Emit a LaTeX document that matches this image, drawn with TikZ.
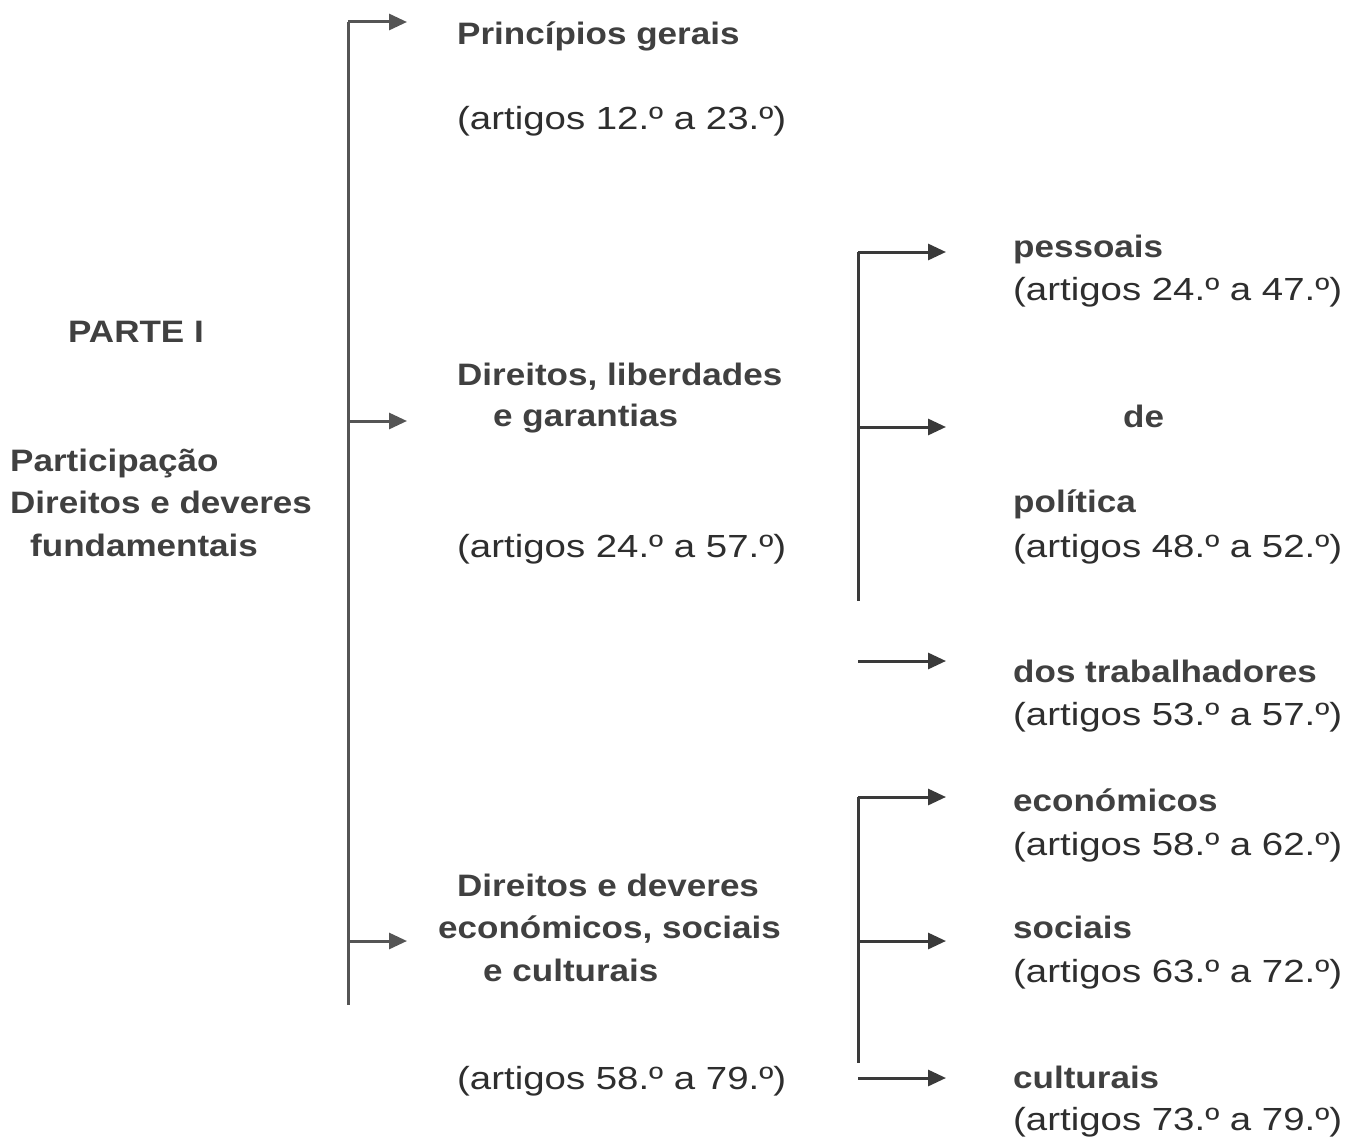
\documentclass[tikz,border=0pt]{standalone}
\usepackage{fontspec}
\setmainfont{Liberation Sans}[FakeStretch=1.13]
\newfontfamily\regfont{Liberation Sans}[FakeStretch=1.2]
\usetikzlibrary{arrows.meta}
\definecolor{txt}{HTML}{2E2E2E}
\definecolor{ttl}{HTML}{404040}
\definecolor{ln}{HTML}{555555}
\definecolor{lnd}{HTML}{3A3A3A}
\tikzset{
  lbl/.style={anchor=base west, inner sep=0pt, text=txt, font=\regfont\fontsize{32}{36}\selectfont},
  ttlbl/.style={anchor=base west, inner sep=0pt, text=ttl, font=\fontsize{31}{36}\selectfont\bfseries},
  conn/.style={draw=ln, line width=3pt},
  arr/.style={conn, -{Triangle[length=18pt,width=16pt]}},
  connd/.style={draw=lnd, line width=3pt},
  arrd/.style={connd, -{Triangle[length=18pt,width=16pt]}}
}
\begin{document}
\begin{tikzpicture}[x=1pt,y=-1pt]
\useasboundingbox[fill=white] (0,0) rectangle (1360,1137);
% left
\node[ttlbl] (parte) at (68,342) {PARTE I};
\node[ttlbl] (l1) at (10,471) {Participação};
\node[ttlbl] (l2) at (10,513) {Direitos e deveres};
\node[ttlbl] (l3) at (30,556) {fundamentais};
% middle column
\node[ttlbl] (pg) at (457,45) {Princípios gerais};
\node[lbl] (pga) at (457,130) {(artigos 12.º a 23.º)};
\node[ttlbl] (dl1) at (457,385) {Direitos, liberdades};
\node[ttlbl] (dl2) at (493,426) {e garantias};
\node[lbl] (dla) at (457,557) {(artigos 24.º a 57.º)};
\node[ttlbl] (de1) at (457,896) {Direitos e deveres};
\node[ttlbl] (de2) at (438,938) {económicos, sociais};
\node[ttlbl] (de3) at (483,981) {e culturais};
\node[lbl] (dea) at (457,1089) {(artigos 58.º a 79.º)};
% right column
\node[ttlbl] (r1) at (1013,257) {pessoais};
\node[lbl] (r1a) at (1013,300) {(artigos 24.º a 47.º)};
\node[ttlbl] (de) at (1123,427) {de};
\node[ttlbl] (r2) at (1013,512) {política};
\node[lbl] (r2a) at (1013,557) {(artigos 48.º a 52.º)};
\node[ttlbl] (r3) at (1013,682) {dos trabalhadores};
\node[lbl] (r3a) at (1013,725) {(artigos 53.º a 57.º)};
\node[ttlbl] (r4) at (1013,811) {económicos};
\node[lbl] (r4a) at (1013,855) {(artigos 58.º a 62.º)};
\node[ttlbl] (r5) at (1013,938) {sociais};
\node[lbl] (r5a) at (1013,982) {(artigos 63.º a 72.º)};
\node[ttlbl] (r6) at (1013,1088) {culturais};
\node[lbl] (r6a) at (1013,1130) {(artigos 73.º a 79.º)};
% main spine
\coordinate (sTop) at (348,22);
\coordinate (sMid) at (348,421);
\coordinate (sLow) at (348,941);
\coordinate (sEnd) at (348,1005);
\coordinate (aTop) at (407,22);
\coordinate (aMid) at (407,421);
\coordinate (aLow) at (407,941);
\draw[conn] (sTop) -- (sEnd);
\draw[arr] (sTop) -- (aTop);
\draw[arr] (sMid) -- (aMid);
\draw[arr] (sLow) -- (aLow);
% right spine 1
\coordinate (b1) at (858,252);
\coordinate (b2) at (858,427);
\coordinate (b3) at (858,601);
\coordinate (b4) at (858,661);
\coordinate (c1) at (946,252);
\coordinate (c2) at (946,427);
\coordinate (c4) at (946,661);
\draw[connd] (b1) -- (b3);
\draw[arrd] (b1) -- (c1);
\draw[arrd] (b2) -- (c2);
\draw[arrd] (b4) -- (c4);
% right spine 2
\coordinate (d1) at (858,797);
\coordinate (d2) at (858,941);
\coordinate (d3) at (858,1063);
\coordinate (d4) at (858,1078);
\coordinate (e1) at (946,797);
\coordinate (e2) at (946,941);
\coordinate (e4) at (946,1078);
\draw[connd] (d1) -- (d3);
\draw[arrd] (d1) -- (e1);
\draw[arrd] (d2) -- (e2);
\draw[arrd] (d4) -- (e4);
\end{tikzpicture}
\end{document}
